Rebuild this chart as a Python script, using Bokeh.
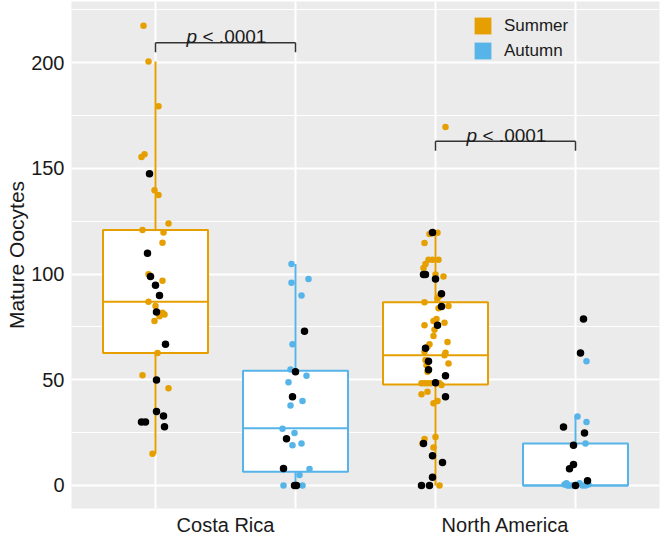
import numpy as np
from bokeh.plotting import figure
from bokeh.models import FixedTicker, Legend, LegendItem, Range1d
from bokeh.embed import file_html
from bokeh.resources import INLINE
from bokeh.core.properties import value

# ---------------- data ----------------
regions = ["Costa Rica", "North America"]
seasons = ["Summer", "Autumn"]
season_colors = {"Summer": "#E69F00", "Autumn": "#56B4E9"}
# group order: CR-Summer, CR-Autumn, NA-Summer, NA-Autumn
group_region = ["Costa Rica", "Costa Rica", "North America", "North America"]
group_season = ["Summer", "Autumn", "Summer", "Autumn"]

# box statistics
q1 = [62.7, 6.5, 47.8, 0.0]
med = [86.9, 27.0, 61.6, 0.0]
q3 = [120.8, 54.3, 86.6, 19.8]
whisker_lo = [15.0, 0.0, 0.0, 0.0]
whisker_hi = [200.5, 104.8, 120.0, 33.0]

# coloured points (value, jitter in px)
cr_su_vals = [217.4, 200.5, 179.3, 155.3, 156.6, 139.6, 137.4, 123.9, 120.8, 119.7, 114.8,
              99.9, 96.8, 86.9, 84.9, 81.7, 80.0, 80.8, 77.8, 62.7, 52.1, 46.0, 15.0]
cr_su_jit = [-12, -7, 3, -14, -11, -1, 3, 13, -13, 8, 7,
             -7, 7, -7, 0, 7, 4, 9, -1, 2, -13, 13, -3]
cr_au_vals = [104.8, 95.9, 97.7, 89.9, 66.8, 54.9, 51.9, 48.8, 40.0, 37.8, 26.8, 24.8,
              19.8, 19.0, 7.8, 5.0, 0.0, 0.0]
cr_au_jit = [-4, -4, 13, 6, -3, -5, 11, -7, 7, -5, -13, -1, 6, -3, 14, 4, -12, 7]
na_su_vals = [169.6, 118.9, 119.5, 114.7, 106.8, 106.8, 106.8, 104.7, 102.9, 98.8, 99.8,
              88.6, 89.6, 86.6, 84.9, 83.8, 75.8, 78.7, 77.8, 76.9, 73.7, 70.7, 67.9,
              66.8, 65.6, 63.2, 62.8, 61.6, 59.3, 57.7, 56.8, 53.8, 48.3, 48.3, 48.3,
              48.3, 48.3, 48.3, 47.5, 43.1, 44.3, 38.9, 40.0, 22.0, 22.9, 19.8, 18.0, 0.0]
na_su_jit = [10, -6, 2, -11, -7, -3, 3, -10, -12, 8, 0,
             2, 4, -11, 13, 3, -11, 1, -2, 9, -1, -2, 12,
             -6, -8, -11, 10, 9, -10, 13, -9, -8, -14, -11, -8,
             -5, 1, 4, 6, -14, -8, -2, 2, -11, 0, -13, -2, 4]
na_au_vals = [58.8, 32.6, 30.0, 19.8, 0.5, 1.0, 0.0, 0.0, 1.0, 0.0, 0.0, 0.5, 0.0]
na_au_jit = [11, 2, 11, 10, -11, -9, -6, -3, 4, 7, 10, 13, -8]

# black points
cr_su_blk = [147.4, 109.8, 98.8, 94.7, 89.9, 82.0, 66.8, 49.9, 35.0, 32.9, 30.0, 30.0, 27.8]
cr_su_blk_jit = [-6, -8, -5, 0, 4, 1, 10, 1, 1, 8, -14, -10, 9]
cr_au_blk = [72.9, 53.8, 41.9, 22.1, 8.0, 0.0, 0.0]
cr_au_blk_jit = [9, 0, -3, -9, -12, -1, 1]
na_su_blk = [119.7, 99.8, 99.8, 97.7, 90.7, 84.7, 75.8, 64.9, 58.8, 54.7, 51.9, 48.6,
             41.9, 19.8, 14.0, 10.8, 3.9, 0.0, 0.0]
na_su_blk_jit = [-3, -12, -10, 0, 6, 6, 2, -10, -7, -7, 10, 0, 10, -12, -3, 7, -3, -14, -6]
na_au_blk = [78.7, 62.7, 27.6, 24.8, 19.0, 9.9, 7.9, 2.2, 0.0]
na_au_blk_jit = [8, 5, -12, 9, -2, -2, -6, 12, 0]

color_vals = [cr_su_vals, cr_au_vals, na_su_vals, na_au_vals]
color_jits = [cr_su_jit, cr_au_jit, na_su_jit, na_au_jit]
black_vals = [cr_su_blk, cr_au_blk, na_su_blk, na_au_blk]
black_jits = [cr_su_blk_jit, cr_au_blk_jit, na_su_blk_jit, na_au_blk_jit]

# significance annotations
sig_text = ["< .0001", "< .0001"]
bracket_y = [209.4, 162.8]

# ---------------- figure ----------------
FONT = "Liberation Sans"
TXT = "#1a1a1a"
PX_PER_UNIT = 140.0

p = figure(width=661, height=538,
           x_range=Range1d(0.4, 4.6), y_range=Range1d(-10.9, 228.9),
           output_backend="svg", toolbar_location=None,
           min_border_left=71, min_border_right=2, min_border_top=1, min_border_bottom=29)
p.background_fill_color = "#EBEBEB"
p.border_fill_color = "white"
p.outline_line_color = None

gx = np.arange(1, len(group_season) + 1, dtype=float)
gcol = [season_colors[s] for s in group_season]
half = 0.375

# whiskers
p.segment(x0=gx, x1=gx, y0=q3, y1=whisker_hi, line_color=gcol, line_width=2)
p.segment(x0=gx, x1=gx, y0=q1, y1=whisker_lo, line_color=gcol, line_width=2)
# boxes
p.quad(left=gx - half, right=gx + half, bottom=q1, top=q3,
       fill_color="white", line_color=gcol, line_width=2)
p.segment(x0=gx - half, x1=gx + half, y0=med, y1=med, line_color=gcol, line_width=2)

# coloured points
for i in range(4):
    xs = gx[i] + np.array(color_jits[i]) / PX_PER_UNIT
    p.scatter(x=xs, y=color_vals[i], size=6.5, fill_color=gcol[i], line_color=None)
# black points
for i in range(4):
    xs = gx[i] + np.array(black_jits[i]) / PX_PER_UNIT
    p.scatter(x=xs, y=black_vals[i], size=7.5, fill_color="black", line_color=None)

# significance brackets
region_centers = []
for r in regions:
    idx = [i for i, g in enumerate(group_region) if g == r]
    region_centers.append((gx[idx[0]] + gx[idx[-1]]) / 2)
bx0 = [gx[0], gx[2]]
bx1 = [gx[1], gx[3]]
tick = 4.5
p.segment(x0=bx0, x1=bx1, y0=bracket_y, y1=bracket_y, line_color="#333333", line_width=1.5)
p.segment(x0=bx0, x1=bx0, y0=bracket_y, y1=[b - tick for b in bracket_y], line_color="#333333", line_width=1.5)
p.segment(x0=bx1, x1=bx1, y0=bracket_y, y1=[b - tick for b in bracket_y], line_color="#333333", line_width=1.5)
p.text(x=region_centers, y=bracket_y, text=["p", "p"], text_font=value(FONT),
       text_font_style="italic", text_font_size="19px", text_color=TXT,
       text_align="left", text_baseline="alphabetic", x_offset=-39, y_offset=-6)
p.text(x=region_centers, y=bracket_y, text=sig_text, text_font=value(FONT),
       text_font_size="19px", text_color=TXT,
       text_align="left", text_baseline="alphabetic", x_offset=-23, y_offset=-6)

# legend (keys drawn from renderers with a single empty point)
leg_items = []
for s in seasons:
    r = p.quad(left=[np.nan], right=[np.nan], top=[np.nan], bottom=[np.nan],
               fill_color=season_colors[s], line_color=None)
    leg_items.append(LegendItem(label=s, renderers=[r], index=0))
legend = Legend(items=leg_items, location=(401, 447), glyph_width=21, glyph_height=21,
                label_height=21, spacing=4, padding=0, margin=0, label_standoff=11,
                label_text_font=FONT, label_text_font_size="17px", label_text_color=TXT,
                background_fill_alpha=0, border_line_color=None)
p.add_layout(legend)

# axes
p.xaxis.ticker = FixedTicker(ticks=region_centers)
p.xaxis.major_label_overrides = {float(c): r for c, r in zip(region_centers, regions)}
p.yaxis.ticker = FixedTicker(ticks=[0, 50, 100, 150, 200], minor_ticks=[25, 75, 125, 175, 225])
p.yaxis.axis_label = "Mature Oocytes"
for ax in (p.xaxis[0], p.yaxis[0]):
    ax.axis_line_color = None
    ax.major_tick_line_color = None
    ax.minor_tick_line_color = None
    ax.major_tick_out = 0
    ax.major_tick_in = 0
    ax.minor_tick_out = 0
    ax.minor_tick_in = 0
    ax.major_label_text_font = FONT
    ax.major_label_text_color = TXT
p.xaxis.major_label_text_font_size = "20px"
p.yaxis.major_label_text_font_size = "20px"
p.xaxis.major_label_standoff = 5
p.yaxis.major_label_standoff = 7
p.yaxis.axis_label_text_font = FONT
p.yaxis.axis_label_text_font_size = "21px"
p.yaxis.axis_label_text_font_style = "normal"
p.yaxis.axis_label_text_color = TXT
p.yaxis.axis_label_standoff = 0

# grids
p.xgrid.ticker = FixedTicker(ticks=list(gx))
p.xgrid.grid_line_color = "white"
p.xgrid.grid_line_width = 2
p.ygrid.grid_line_color = "white"
p.ygrid.grid_line_width = 2
p.ygrid.minor_grid_line_color = "white"
p.ygrid.minor_grid_line_width = 1

open("out.html", "w").write(file_html(p, INLINE))
